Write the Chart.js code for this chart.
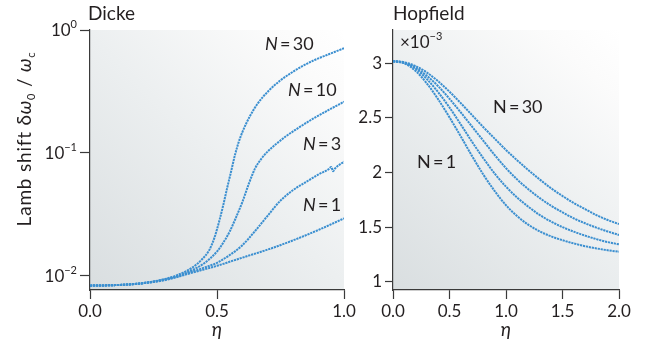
<!DOCTYPE html>
<html><head><meta charset="utf-8">
<script src="https://cdn.jsdelivr.net/npm/chart.js@4.4.1/dist/chart.umd.min.js"></script>
<style>
html,body{margin:0;padding:0;background:#fff;width:646px;height:345px;overflow:hidden;}
canvas{position:absolute;top:0;}
#cl{left:0;}
#cr{left:350px;}
</style></head><body>
<canvas id="cl" width="360" height="345"></canvas>
<canvas id="cr" width="296" height="345"></canvas>
<script>
// ---------- Data: Dicke (left, log scale) ----------
const dickeEta1  = [0,0.1,0.2,0.3,0.4,0.5,0.6,0.7,0.8,0.9,1.0];
const dickeN1    = [0.00834,0.00843,0.0087,0.0093,0.0106,0.0121,0.0141,0.0164,0.0195,0.0237,0.0294];
const dickeEta3  = [0,0.1,0.2,0.3,0.4,0.45,0.5,0.55,0.6,0.65,0.7,0.75,0.8,0.85,0.9,0.94,0.95,0.957,0.965,1.0];
const dickeN3    = [0.00834,0.00843,0.0087,0.0094,0.0108,0.0117,0.0128,0.0148,0.0178,0.0232,0.031,0.041,0.050,0.058,0.067,0.074,0.077,0.071,0.075,0.085];
const dickeEta10 = [0,0.1,0.2,0.3,0.35,0.4,0.45,0.5,0.525,0.55,0.575,0.6,0.625,0.65,0.675,0.7,0.73,0.77,0.81,0.88,0.94,1.0];
const dickeN10   = [0.00834,0.00843,0.0087,0.0094,0.0101,0.0111,0.0127,0.0158,0.0187,0.023,0.030,0.040,0.056,0.075,0.090,0.103,0.117,0.136,0.155,0.191,0.224,0.261];
const dickeEta30 = [0,0.1,0.2,0.3,0.35,0.4,0.44,0.47,0.49,0.51,0.525,0.54,0.555,0.57,0.585,0.6,0.63,0.66,0.7,0.75,0.79,0.83,0.88,0.94,1.0];
const dickeN30   = [0.00834,0.00843,0.0087,0.0095,0.0103,0.0116,0.0136,0.0163,0.0205,0.0285,0.038,0.052,0.07,0.095,0.122,0.148,0.200,0.252,0.315,0.39,0.445,0.50,0.565,0.635,0.71];
const dickeXTicks = [0,0.5,1.0];
const dickeYTicks = [1,0.1,0.01];
const dickeYExps  = ['0','\u22121','\u22122'];

// ---------- Data: Hopfield (right, units of 1e-3) ----------
const hopEta = [0,0.1,0.2,0.3,0.4,0.5,0.6,0.7,0.8,0.9,1.0,1.1,1.2,1.3,1.4,1.5,1.6,1.7,1.8,1.9,2.0];
const hopN1  = [3.02,3.00,2.93,2.815,2.67,2.505,2.33,2.15,1.98,1.83,1.70,1.60,1.52,1.46,1.415,1.38,1.35,1.325,1.305,1.288,1.275];
const hopN3  = [3.02,3.003,2.95,2.855,2.735,2.595,2.44,2.28,2.13,1.99,1.87,1.77,1.685,1.61,1.55,1.50,1.458,1.422,1.39,1.363,1.342];
const hopN10 = [3.02,3.005,2.96,2.885,2.79,2.675,2.55,2.42,2.29,2.16,2.04,1.935,1.845,1.765,1.695,1.635,1.58,1.535,1.495,1.46,1.428];
const hopN30 = [3.02,3.01,2.975,2.915,2.835,2.74,2.635,2.525,2.415,2.31,2.206,2.11,2.02,1.935,1.855,1.785,1.72,1.665,1.61,1.565,1.528];
const hopXTicks = [0,0.5,1.0,1.5,2.0];
const hopYTicks = [1,1.5,2,2.5,3];

// ---------- Style ----------
const BLUE = '#3b8fd0';
const AX = '#3a3a3a';
const TXT = '#231f20';
const FAM = 'Lato, "Noto Sans", sans-serif';
const F = (s, it) => (it ? 'italic ' : '') + s + 'px ' + FAM;

function pts(xs, ys){ return xs.map((x,i)=>({x:x, y:ys[i]})); }
function ds(xs, ys){ return {data: pts(xs,ys), borderColor: BLUE, borderWidth: 2, borderDash:[2.2,0.8],
  pointRadius: 0, cubicInterpolationMode:'monotone', fill:false}; }

function runs(ctx, x, y, parts){
  for (const p of parts){ ctx.font = p[1]; ctx.fillText(p[0], x, y + (p[2]||0)); x += ctx.measureText(p[0]).width; }
  return x;
}
function runsW(ctx, parts){ let w=0; for (const p of parts){ ctx.font=p[1]; w+=ctx.measureText(p[0]).width; } return w; }

const bgPlugin = {id:'bg', beforeDraw(c){
  const a=c.chartArea, x=c.ctx;
  const g=x.createLinearGradient(a.left,a.bottom,a.right,a.top);
  g.addColorStop(0,'#d9dee0'); g.addColorStop(0.5,'#eceff0'); g.addColorStop(0.85,'#fbfbfb'); g.addColorStop(1,'#ffffff');
  x.save(); x.fillStyle=g; x.fillRect(a.left,a.top,a.right-a.left,a.bottom-a.top); x.restore();
}};

function axisCommon(tickLen){
  return {
    grid:{drawOnChartArea:false, drawTicks:true, tickLength:tickLen, color:AX, tickWidth:1.2},
    border:{display:true, color:AX, width:1.2}
  };
}

// ---------- Left chart: Dicke ----------
const leftText = {id:'leftText', afterDraw(c){
  const ctx=c.ctx, a=c.chartArea, ys=c.scales.y;
  ctx.save(); ctx.fillStyle=TXT; ctx.textBaseline='alphabetic'; ctx.textAlign='left';
  // title
  ctx.font=F(19); ctx.fillText('Dicke', 88, 20);
  // y tick labels 10^n
  dickeYTicks.forEach((v,i)=>{
    const py=ys.getPixelForValue(v);
    const parts=[['10',F(17),0],[dickeYExps[i],F(11),-8]];
    const w=runsW(ctx,parts);
    runs(ctx, a.left-13-w, py+6, parts);
  });
  // x axis title
  ctx.font=F(19,true); ctx.textAlign='center'; ctx.fillText('\u03b7', (a.left+a.right)/2, 336); ctx.textAlign='left';
  // y axis title (rotated)
  ctx.letterSpacing='0.8px';
  const yparts=[['Lamb shift \u03b4',F(19),0],['\u03c9',F(19,true),0],['0',F(11),4],[' / ',F(19),0],['\u03c9',F(19,true),0],['c',F(11),4]];
  const w=runsW(ctx,yparts);
  ctx.translate(31, 139); ctx.rotate(-Math.PI/2);
  runs(ctx, -w/2, 0, yparts);
  ctx.setTransform(1,0,0,1,0,0);
  ctx.letterSpacing='0px';
  // N labels
  const lab=(x,y,t)=>runs(ctx,x,y,[['N',F(18,true),0],['\u2009=\u2009'+t,F(18),0]]);
  lab(265,50,'30'); lab(288,96,'10'); lab(303,150,'3'); lab(303,211,'1');
  ctx.restore();
}};

new Chart(document.getElementById('cl'), {
  type:'line',
  data:{datasets:[ds(dickeEta1,dickeN1), ds(dickeEta3,dickeN3), ds(dickeEta10,dickeN10), ds(dickeEta30,dickeN30)]},
  options:{
    responsive:false, animation:false, devicePixelRatio:1,
    layout:{padding:{top:30,right:16,left:0,bottom:0}},
    plugins:{legend:{display:false}, tooltip:{enabled:false}},
    scales:{
      x:Object.assign({type:'linear', min:0, max:1,
        afterBuildTicks:s=>{s.ticks=dickeXTicks.map(v=>({value:v}));},
        ticks:{callback:v=>v.toFixed(1), font:{family:FAM,size:17}, color:TXT, padding:2, maxRotation:0, autoSkip:false},
        afterFit:s=>{s.height=55;}}, axisCommon(9)),
      y:Object.assign({type:'logarithmic', min:0.00769, max:1,
        afterBuildTicks:s=>{s.ticks=dickeYTicks.map(v=>({value:v}));},
        ticks:{callback:()=>'', autoSkip:false},
        afterFit:s=>{s.width=90;}}, axisCommon(10))
    }
  },
  plugins:[bgPlugin, leftText]
});

// ---------- Right chart: Hopfield ----------
const rightText = {id:'rightText', afterDraw(c){
  const ctx=c.ctx, a=c.chartArea;
  ctx.save(); ctx.fillStyle=TXT; ctx.textBaseline='alphabetic'; ctx.textAlign='left';
  ctx.font=F(19); ctx.fillText('Hopfield', a.left, 20);
  runs(ctx, a.left+7, 48, [['\u00d710',F(17),0],['\u22123',F(11),-8]]);
  ctx.font=F(19,true); ctx.textAlign='center'; ctx.fillText('\u03b7', (a.left+a.right)/2, 336); ctx.textAlign='left';
  const lab=(x,y,t)=>{ctx.font=F(18); ctx.fillText('N\u2009=\u2009'+t, x, y);};
  lab(143,113,'30'); lab(67,168,'1');
  ctx.restore();
}};

new Chart(document.getElementById('cr'), {
  type:'line',
  data:{datasets:[ds(hopEta,hopN1), ds(hopEta,hopN3), ds(hopEta,hopN10), ds(hopEta,hopN30)]},
  options:{
    responsive:false, animation:false, devicePixelRatio:1,
    layout:{padding:{top:30,right:27,left:0,bottom:0}},
    plugins:{legend:{display:false}, tooltip:{enabled:false}},
    scales:{
      x:Object.assign({type:'linear', min:0, max:2,
        afterBuildTicks:s=>{s.ticks=hopXTicks.map(v=>({value:v}));},
        ticks:{callback:v=>v.toFixed(1), font:{family:FAM,size:17}, color:TXT, padding:2, maxRotation:0, autoSkip:false},
        afterFit:s=>{s.height=55;}}, axisCommon(9)),
      y:Object.assign({type:'linear', min:0.924, max:3.305,
        afterBuildTicks:s=>{s.ticks=hopYTicks.map(v=>({value:v}));},
        ticks:{callback:v=>String(v), font:{family:FAM,size:17}, color:TXT, padding:3, autoSkip:false},
        afterFit:s=>{s.width=43;}}, axisCommon(8))
    }
  },
  plugins:[bgPlugin, rightText]
});
</script>
</body></html>
